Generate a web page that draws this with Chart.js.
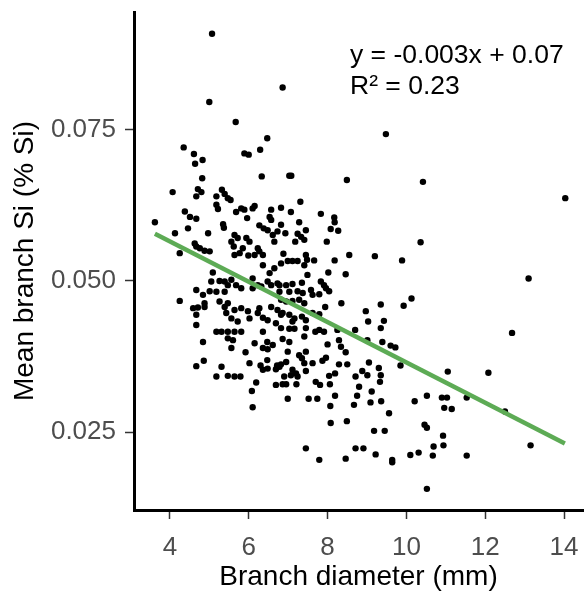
<!DOCTYPE html>
<html>
<head>
<meta charset="utf-8">
<script src="https://cdn.jsdelivr.net/npm/chart.js@4.4.1/dist/chart.umd.min.js"></script>
<style>
    html, body { margin: 0; padding: 0; background: #fff; }
</style>
</head>
<body>
<canvas id="siChart" width="587" height="592"></canvas>
<script>
// branch diameter (mm) and mean branch Si (% Si)
const branchDiameter = [
    5.07, 6.86, 5.00, 5.67, 6.47, 4.35, 4.61, 4.83, 4.64, 5.89, 6.00, 6.29, 6.33, 4.82,
    9.48, 7.03, 7.08, 8.49, 10.42, 14.03, 13.10, 12.68,
    7.31, 7.83, 6.82, 7.07, 8.17, 8.18, 8.08, 8.27, 7.28, 7.45, 6.93, 7.24, 7.33, 7.18, 7.41, 7.98,
    10.36, 8.55, 9.20, 9.89, 6.88, 6.99, 6.82, 7.11, 7.24, 7.45, 7.41, 7.48, 7.66, 8.18, 8.02, 8.46,
    7.49, 6.78, 6.95, 7.11, 7.35, 7.03, 7.24, 7.37, 7.58, 7.83, 7.91, 7.96, 8.04, 7.79, 7.62, 7.94,
    8.35, 6.82, 6.95, 7.11, 7.28, 7.41, 6.86, 7.03, 7.16, 7.11, 7.35, 7.45, 7.62, 7.79, 6.82, 7.03,
    7.16, 7.45, 7.69, 7.79, 7.91, 8.25, 8.29, 8.70, 8.97, 9.35, 9.03, 9.43, 9.35, 9.93, 10.13, 9.01,
    9.39, 9.60, 9.72, 6.86, 7.03, 7.41, 8.00, 8.34,
    4.07, 4.71, 4.80, 4.67, 5.32, 5.39, 5.47, 5.54, 5.18, 3.62, 4.38, 4.51, 4.67, 4.46, 4.13, 4.97,
    5.18, 5.22, 5.68, 5.81, 5.89, 5.96, 6.10, 6.15, 6.57, 6.53, 6.57, 5.35, 5.37, 5.64, 5.72, 5.56,
    5.62, 5.85, 6.27, 6.38, 6.48, 5.94, 6.02, 6.23, 6.36, 6.27, 6.15, 5.99, 6.61, 6.65, 6.73, 6.82,
    4.63, 4.67, 4.76, 4.88, 5.01, 4.25, 5.64, 5.77, 6.36, 6.53, 6.65, 5.09, 5.05, 5.26, 5.39, 5.56,
    5.39, 5.47, 5.68, 5.81, 6.10, 6.10, 6.23, 6.32, 6.48, 6.57, 6.73, 6.78, 4.67, 4.84, 5.01, 5.18,
    4.25, 4.88, 5.26, 5.47, 4.59, 4.71, 4.88, 4.67, 5.39, 5.43, 5.64, 5.81, 5.98, 6.27, 6.23, 6.36,
    6.57, 6.73, 6.82, 5.56, 5.72, 6.02, 6.48, 4.67, 6.69, 5.18, 5.31, 5.47, 5.64, 5.81, 5.47, 5.60,
    6.36, 4.84, 6.15, 6.47, 6.61,
    4.67, 4.86, 5.31, 5.18, 5.47, 5.64, 5.79, 5.56, 5.92, 6.36, 6.48, 6.02, 6.30, 6.47, 6.48, 6.36,
    6.72, 6.69, 6.82, 6.19, 6.08, 6.69, 6.86, 6.10,
    6.99, 7.28, 7.35, 7.45, 7.41, 7.62, 6.95, 6.78, 7.11, 7.20, 7.07, 6.90, 7.24, 7.45, 6.95, 7.21,
    7.70, 7.81, 8.06, 7.87, 7.96, 8.29, 8.50, 8.46, 8.04, 8.19, 8.71, 8.88, 9.01, 8.80, 9.05, 9.30,
    9.35, 9.33, 9.85, 9.12, 8.75, 8.19, 6.99, 7.52, 7.74, 8.07, 8.67, 9.09, 9.36, 9.56, 10.21, 10.52,
    8.08, 8.49, 9.18, 9.45, 10.46, 10.52, 7.45, 7.79, 8.46, 8.71, 8.91, 9.22, 9.64, 9.64, 10.10, 10.31,
    10.52,
    11.05, 12.08, 10.90, 11.03, 11.53, 10.96, 11.15, 12.50, 10.93, 10.69, 10.94, 10.67, 11.53, 13.15
];

const meanSi = [
    0.0909, 0.0820, 0.0796, 0.0763, 0.0736, 0.0721, 0.0710, 0.0700, 0.0694, 0.0711, 0.0709, 0.0717, 0.0673, 0.0670,
    0.0743, 0.0674, 0.0674, 0.0667, 0.0664, 0.0637, 0.0504, 0.0414,
    0.0631, 0.0611, 0.0621, 0.0614, 0.0605, 0.0597, 0.0586, 0.0583, 0.0597, 0.0584, 0.0579, 0.0578, 0.0573, 0.0565, 0.0568, 0.0565,
    0.0564, 0.0543, 0.0541, 0.0534, 0.0545, 0.0533, 0.0529, 0.0533, 0.0533, 0.0543, 0.0526, 0.0535, 0.0534, 0.0534, 0.0514, 0.0511,
    0.0510, 0.0493, 0.0493, 0.0495, 0.0497, 0.0482, 0.0483, 0.0480, 0.0485, 0.0499, 0.0493, 0.0488, 0.0483, 0.0478, 0.0477, 0.0457,
    0.0463, 0.0469, 0.0466, 0.0467, 0.0469, 0.0463, 0.0447, 0.0444, 0.0438, 0.0433, 0.0441, 0.0435, 0.0447, 0.0445, 0.0422, 0.0421,
    0.0421, 0.0422, 0.0416, 0.0419, 0.0416, 0.0419, 0.0402, 0.0419, 0.0450, 0.0461, 0.0433, 0.0434, 0.0422, 0.0459, 0.0471, 0.0402,
    0.0399, 0.0393, 0.0390, 0.0404, 0.0399, 0.0408, 0.0395, 0.0391,
    0.0647, 0.0652, 0.0647, 0.0640, 0.0651, 0.0644, 0.0637, 0.0634, 0.0640, 0.0597, 0.0615, 0.0606, 0.0603, 0.0587, 0.0579, 0.0579,
    0.0626, 0.0619, 0.0614, 0.0620, 0.0618, 0.0604, 0.0620, 0.0624, 0.0618, 0.0606, 0.0601, 0.0594, 0.0588, 0.0576, 0.0571, 0.0565,
    0.0557, 0.0554, 0.0592, 0.0587, 0.0584, 0.0571, 0.0565, 0.0554, 0.0543, 0.0549, 0.0543, 0.0542, 0.0576, 0.0565, 0.0582, 0.0593,
    0.0562, 0.0557, 0.0554, 0.0550, 0.0549, 0.0546, 0.0543, 0.0546, 0.0526, 0.0513, 0.0521, 0.0514, 0.0499, 0.0500, 0.0499, 0.0502,
    0.0482, 0.0493, 0.0493, 0.0488, 0.0504, 0.0488, 0.0493, 0.0491, 0.0499, 0.0493, 0.0496, 0.0482, 0.0485, 0.0477, 0.0483, 0.0482,
    0.0467, 0.0463, 0.0466, 0.0463, 0.0455, 0.0456, 0.0457, 0.0444, 0.0457, 0.0447, 0.0452, 0.0455, 0.0450, 0.0455, 0.0447, 0.0439,
    0.0457, 0.0452, 0.0444, 0.0438, 0.0433, 0.0438, 0.0435, 0.0427, 0.0430, 0.0416, 0.0416, 0.0416, 0.0416, 0.0416, 0.0405, 0.0402,
    0.0416, 0.0399, 0.0397, 0.0399, 0.0394,
    0.0359, 0.0368, 0.0358, 0.0342, 0.0343, 0.0342, 0.0342, 0.0389, 0.0382, 0.0389, 0.0387, 0.0364, 0.0360, 0.0369, 0.0355, 0.0353,
    0.0360, 0.0354, 0.0362, 0.0332, 0.0318, 0.0328, 0.0329, 0.0291,
    0.0383, 0.0377, 0.0372, 0.0383, 0.0364, 0.0364, 0.0366, 0.0358, 0.0353, 0.0347, 0.0344, 0.0342, 0.0342, 0.0351, 0.0329, 0.0329,
    0.0333, 0.0328, 0.0329, 0.0368, 0.0373, 0.0362, 0.0362, 0.0382, 0.0343, 0.0347, 0.0342, 0.0351, 0.0344, 0.0325, 0.0365, 0.0356,
    0.0344, 0.0333, 0.0360, 0.0317, 0.0310, 0.0310, 0.0305, 0.0305, 0.0305, 0.0293, 0.0295, 0.0299, 0.0301, 0.0281, 0.0301, 0.0310,
    0.0265, 0.0268, 0.0252, 0.0252, 0.0262, 0.0257, 0.0223, 0.0204, 0.0206, 0.0223, 0.0223, 0.0213, 0.0204, 0.0200, 0.0212, 0.0216,
    0.0156,
    0.0350, 0.0348, 0.0307, 0.0307, 0.0307, 0.0290, 0.0288, 0.0284, 0.0244, 0.0226, 0.0228, 0.0211, 0.0211, 0.0228
];

// ends of the fitted line as drawn
const fitDiameter = [3.62, 14.02];
const fitSi = [0.0578, 0.0231];

const xTicks = [4, 6, 8, 10, 12, 14];
const yTicks = [0.025, 0.050, 0.075];
const equationLines = ['y = -0.003x + 0.07', 'R\u00B2 = 0.23'];

const FONT = "'Liberation Sans', Arial, sans-serif";

let points = branchDiameter.map((d, i) => ({x: d, y: meanSi[i]}));
let fitPoints = fitDiameter.map((d, i) => ({x: d, y: fitSi[i]}));

const equationPlugin = {
    id: 'equation',
    afterDatasetsDraw(chart) {
        const ctx = chart.ctx;
        ctx.save();
        ctx.fillStyle = '#000';
        ctx.font = '26.5px ' + FONT;
        ctx.textAlign = 'left';
        ctx.textBaseline = 'alphabetic';
        ctx.fillText(equationLines[0], 350, 63);
        ctx.fillText(equationLines[1], 350, 94);
        ctx.restore();
    }
};

new Chart(document.getElementById('siChart'), {
    type: 'scatter',
    data: {
        datasets: [
            {
                data: fitPoints,
                showLine: true,
                borderColor: '#5dab55',
                borderWidth: 4.5,
                pointRadius: 0,
                order: 0
            },
            {
                data: points,
                backgroundColor: '#000',
                borderWidth: 0,
                pointRadius: 3.2,
                order: 1
            }
        ]
    },
    options: {
        responsive: false,
        devicePixelRatio: 1,
        animation: false,
        layout: {padding: {top: 12, right: 2, left: 0, bottom: 0}},
        plugins: {
            legend: {display: false},
            tooltip: {enabled: false}
        },
        scales: {
            x: {
                type: 'linear',
                min: 3.09,
                max: 14.48,
                afterBuildTicks: scale => {
                    scale.ticks = xTicks.map(v => ({value: v}));
                },
                afterFit: scale => {
                    scale.height = 82;
                    scale.paddingLeft = 0;
                    scale.paddingRight = 0;
                },
                ticks: {
                    color: '#4d4d4d',
                    font: {family: FONT, size: 26},
                    padding: 13,
                    maxRotation: 0,
                    autoSkip: false
                },
                grid: {
                    drawOnChartArea: false,
                    drawTicks: true,
                    tickLength: 9,
                    tickColor: '#333',
                    tickWidth: 1.5
                },
                border: {display: true, color: '#000', width: 3},
                title: {
                    display: true,
                    text: 'Branch diameter (mm)',
                    color: '#000',
                    font: {family: FONT, size: 28, lineHeight: 1},
                    padding: {top: 0, bottom: 1}
                }
            },
            y: {
                type: 'linear',
                min: 0.0121,
                max: 0.0945,
                afterBuildTicks: scale => {
                    scale.ticks = yTicks.map(v => ({value: v}));
                },
                afterFit: scale => {
                    scale.width = 134;
                    scale.paddingTop = 0;
                    scale.paddingBottom = 0;
                },
                ticks: {
                    color: '#4d4d4d',
                    font: {family: FONT, size: 26},
                    padding: 9,
                    callback: v => v.toFixed(3)
                },
                grid: {
                    drawOnChartArea: false,
                    drawTicks: true,
                    tickLength: 9,
                    tickColor: '#333',
                    tickWidth: 1.5
                },
                border: {display: true, color: '#000', width: 3},
                title: {
                    display: true,
                    text: 'Mean branch Si (% Si)',
                    color: '#000',
                    font: {family: FONT, size: 28, lineHeight: 1},
                    padding: {top: 11, bottom: 0}
                }
            }
        }
    },
    plugins: [equationPlugin]
});
</script>
</body>
</html>
